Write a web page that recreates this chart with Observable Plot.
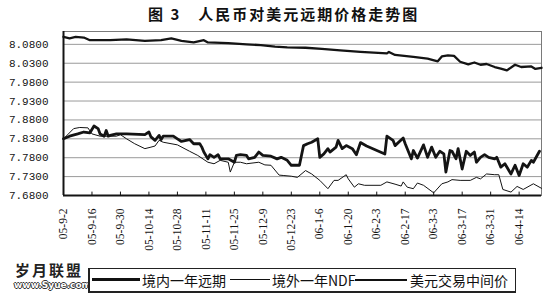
<!DOCTYPE html>
<html><head><meta charset="utf-8">
<script src="https://cdn.jsdelivr.net/npm/d3@7"></script>
<script src="https://cdn.jsdelivr.net/npm/@observablehq/plot@0.6"></script>
<style>
body{margin:0;background:#fff;width:550px;height:294px;position:relative;overflow:hidden;font-family:"Noto Sans CJK SC",sans-serif;color:#111}
#title{position:absolute;left:148px;top:4px;font-size:15px;font-weight:bold;letter-spacing:2px;white-space:nowrap;line-height:20px}
#chart{position:absolute;left:0;top:26px}
#legend{position:absolute;left:88px;top:268px;width:425px;height:22px;border:1px solid #222;border-left-width:2px;border-bottom-width:2px;background:#fff}
.sw{position:absolute;top:10px;border-top:1px solid #111}
.lt{position:absolute;top:0;font-size:14px;line-height:22px;white-space:nowrap}
#wm1{position:absolute;left:15px;top:261px;font-size:15px;line-height:17px;font-weight:bold;letter-spacing:2px;color:#222;white-space:nowrap}
#wm2{position:absolute;left:14px;top:280px;font-family:"DejaVu Sans";font-size:9px;line-height:11px;font-weight:bold;color:#fff;white-space:nowrap;text-shadow:1px 0 #333,-1px 0 #333,0 1px #333,0 -1px #333}
</style></head>
<body>
<div id="title">图 3　人民币对美元远期价格走势图</div>
<div id="chart"></div>
<div id="wm1">岁月联盟</div>
<div id="wm2">www.Syue.com</div>
<div id="legend">
  <div class="sw" style="left:2px;width:48px;border-top-width:3px;top:9px"></div>
  <div class="lt" style="left:52px">境内一年远期</div>
  <div class="sw" style="left:140px;width:40px"></div>
  <div class="lt" style="left:182px">境外一年NDF</div>
  <div class="sw" style="left:265px;width:52px;border-top-width:2px"></div>
  <div class="lt" style="left:320px">美元交易中间价</div>
</div>
<script>
// 美元交易中间价 (USD central parity)
const parityDates = ["2005-09-02","2005-09-05","2005-09-08","2005-09-12","2005-09-15","2005-09-25","2005-10-03","2005-10-12","2005-10-20","2005-10-25","2005-10-30","2005-11-05","2005-11-10","2005-11-12","2005-11-22","2005-12-01","2005-12-08","2005-12-15","2005-12-21","2005-12-30","2006-01-07","2006-01-16","2006-01-26","2006-02-08","2006-02-09","2006-02-12","2006-02-21","2006-02-28","2006-03-05","2006-03-07","2006-03-10","2006-03-13","2006-03-16","2006-03-20","2006-03-23","2006-03-26","2006-03-29","2006-04-02","2006-04-05","2006-04-08","2006-04-12","2006-04-15","2006-04-20","2006-04-22","2006-04-25"];
const parityValues = [8.100,8.096,8.100,8.098,8.091,8.091,8.093,8.089,8.091,8.096,8.089,8.085,8.091,8.085,8.083,8.080,8.078,8.074,8.072,8.071,8.068,8.064,8.060,8.056,8.060,8.052,8.047,8.042,8.035,8.048,8.051,8.0495,8.034,8.027,8.032,8.026,8.028,8.020,8.016,8.011,8.026,8.020,8.0215,8.015,8.018];

// 境内一年远期 (onshore 1-year forward)
const onshoreDates = ["2005-09-02","2005-09-05","2005-09-09","2005-09-12","2005-09-15","2005-09-17","2005-09-19","2005-09-20","2005-09-22","2005-09-23","2005-09-24","2005-09-25","2005-09-28","2005-10-03","2005-10-12","2005-10-14","2005-10-15","2005-10-17","2005-10-19","2005-10-20","2005-10-21","2005-10-26","2005-10-28","2005-10-30","2005-11-03","2005-11-05","2005-11-08","2005-11-09","2005-11-10","2005-11-12","2005-11-13","2005-11-15","2005-11-17","2005-11-18","2005-11-22","2005-11-25","2005-11-26","2005-11-28","2005-12-01","2005-12-02","2005-12-05","2005-12-07","2005-12-09","2005-12-13","2005-12-16","2005-12-18","2005-12-21","2005-12-23","2005-12-27","2005-12-29","2005-12-31","2006-01-02","2006-01-05","2006-01-06","2006-01-08","2006-01-10","2006-01-11","2006-01-14","2006-01-15","2006-01-17","2006-01-19","2006-01-22","2006-01-24","2006-01-26","2006-01-29","2006-02-07","2006-02-08","2006-02-11","2006-02-12","2006-02-16","2006-02-17","2006-02-20","2006-02-21","2006-02-23","2006-02-26","2006-02-28","2006-03-02","2006-03-04","2006-03-06","2006-03-08","2006-03-09","2006-03-11","2006-03-12","2006-03-14","2006-03-15","2006-03-17","2006-03-19","2006-03-21","2006-03-23","2006-03-24","2006-03-26","2006-03-28","2006-03-30","2006-04-02","2006-04-03","2006-04-05","2006-04-07","2006-04-10","2006-04-12","2006-04-14","2006-04-16","2006-04-18","2006-04-20","2006-04-21","2006-04-24"];
const onshoreValues = [7.830,7.837,7.843,7.848,7.846,7.864,7.857,7.843,7.837,7.852,7.837,7.839,7.843,7.843,7.841,7.848,7.835,7.826,7.839,7.828,7.837,7.837,7.830,7.823,7.828,7.817,7.817,7.808,7.795,7.777,7.788,7.781,7.788,7.777,7.777,7.768,7.786,7.788,7.786,7.777,7.781,7.795,7.786,7.784,7.777,7.781,7.773,7.760,7.760,7.812,7.817,7.821,7.830,7.781,7.790,7.804,7.795,7.808,7.826,7.804,7.812,7.804,7.788,7.820,7.811,7.790,7.837,7.826,7.812,7.832,7.817,7.777,7.799,7.779,7.814,7.781,7.808,7.781,7.797,7.790,7.742,7.799,7.797,7.777,7.804,7.750,7.797,7.786,7.795,7.768,7.781,7.788,7.781,7.777,7.781,7.755,7.764,7.737,7.760,7.733,7.764,7.755,7.773,7.768,7.797];

// 境外一年NDF (offshore 1-year NDF)
const ndfDates = ["2005-09-02","2005-09-07","2005-09-10","2005-09-14","2005-09-16","2005-09-20","2005-09-28","2005-09-30","2005-10-03","2005-10-07","2005-10-12","2005-10-15","2005-10-17","2005-10-19","2005-10-21","2005-10-28","2005-11-03","2005-11-07","2005-11-12","2005-11-15","2005-11-18","2005-11-22","2005-11-23","2005-11-25","2005-11-28","2005-12-01","2005-12-07","2005-12-10","2005-12-13","2005-12-17","2005-12-19","2005-12-23","2005-12-26","2005-12-30","2006-01-02","2006-01-06","2006-01-10","2006-01-13","2006-01-15","2006-01-19","2006-01-20","2006-01-23","2006-01-25","2006-01-28","2006-02-05","2006-02-08","2006-02-12","2006-02-15","2006-02-16","2006-02-18","2006-02-21","2006-02-23","2006-02-26","2006-03-03","2006-03-07","2006-03-10","2006-03-12","2006-03-16","2006-03-21","2006-03-24","2006-03-26","2006-03-29","2006-04-02","2006-04-04","2006-04-06","2006-04-10","2006-04-13","2006-04-16","2006-04-21","2006-04-25"];
const ndfValues = [7.830,7.857,7.860,7.859,7.843,7.837,7.837,7.841,7.830,7.817,7.804,7.808,7.811,7.826,7.821,7.814,7.797,7.786,7.768,7.764,7.773,7.768,7.742,7.768,7.768,7.764,7.768,7.761,7.760,7.734,7.733,7.731,7.728,7.746,7.737,7.720,7.698,7.720,7.720,7.735,7.724,7.702,7.711,7.707,7.707,7.716,7.710,7.705,7.716,7.702,7.698,7.713,7.707,7.687,7.711,7.716,7.722,7.720,7.720,7.728,7.724,7.737,7.735,7.735,7.696,7.689,7.704,7.696,7.711,7.699];

// axis ticks
const tickDates = ["2005-09-02","2005-09-16","2005-09-30","2005-10-14","2005-10-28","2005-11-11","2005-11-25","2005-12-09","2005-12-23","2006-01-06","2006-01-20","2006-02-03","2006-02-17","2006-03-03","2006-03-17","2006-03-31","2006-04-14"];
const yTicks = [7.68,7.73,7.78,7.83,7.88,7.93,7.98,8.03,8.08];
const xStart = "2005-09-02", xEnd = "2006-04-25";
const yMin = 7.68, yMax = 8.114;

const parse = s => new Date(s + "T00:00:00Z");
const rows = (dates, values) => dates.map((d, i) => ({date: parse(d), value: values[i]}));
const parity = rows(parityDates, parityValues);
const onshore = rows(onshoreDates, onshoreValues);
const ndf = rows(ndfDates, ndfValues);
const ticks = tickDates.map(parse);
const ink = "#141414";

const chart = Plot.plot({
  width: 550, height: 240,
  marginTop: 5, marginRight: 9, marginBottom: 71, marginLeft: 63,
  style: {fontFamily: "Liberation Mono", fontSize: "11px", color: ink, background: "transparent"},
  x: {type: "utc", domain: [parse(xStart), parse(xEnd)], label: null},
  y: {domain: [yMin, yMax], label: null},
  marks: [
    Plot.gridY(yTicks, {stroke: "#9a9a9a", strokeOpacity: 1}),
    Plot.frame({stroke: "#7a7a7a"}),
    Plot.ruleX([parse(xStart)], {stroke: ink, strokeWidth: 2}),
    Plot.ruleY([yMin], {stroke: ink, strokeWidth: 2}),
    Plot.ruleX(ticks, {y1: yMin, y2: yMin + 0.009, stroke: ink}),
    Plot.axisY(yTicks, {tickSize: 0, tickPadding: 15, tickFormat: d3.format(".4f"), fontSize: 11, label: null}),
    Plot.axisX(ticks, {tickSize: 0, tickPadding: 13, tickRotate: -90, tickFormat: d3.utcFormat("%y-%-m-%-d"), fontFamily: "Liberation Serif", fontSize: 11.5, label: null}),
    Plot.line(ndf, {x: "date", y: "value", stroke: ink, strokeWidth: 1}),
    Plot.line(onshore, {x: "date", y: "value", stroke: ink, strokeWidth: 2.8}),
    Plot.line(parity, {x: "date", y: "value", stroke: ink, strokeWidth: 2.3})
  ]
});
document.getElementById("chart").append(chart);
</script>
</body></html>
